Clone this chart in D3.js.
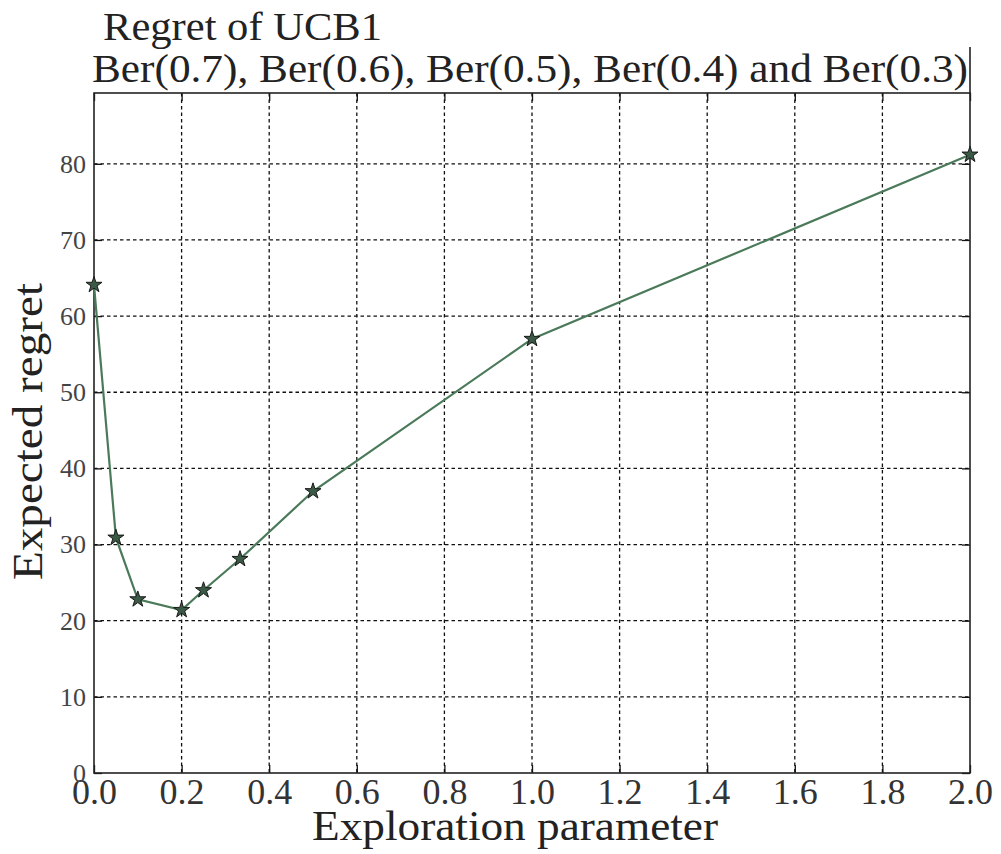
<!DOCTYPE html>
<html>
<head>
<meta charset="utf-8">
<script src="https://cdn.jsdelivr.net/npm/d3@7"></script>
<style>
  html, body { margin: 0; padding: 0; background: #fff; }
  svg { display: block; }
  text { font-family: "Liberation Serif", "DejaVu Serif", serif; fill: #222; }
</style>
</head>
<body>
<svg id="chart" width="1001" height="854"></svg>
<script>
// Exploration parameter values and the expected regret measured at each
const explorationParams = [0, 0.05, 0.1, 0.2, 0.25, 1 / 3, 0.5, 1.0, 2.0];
const expectedRegret = [64.1, 30.9, 22.8, 21.4, 24.0, 28.1, 37.0, 57.0, 81.2];

const xTicks = [0, 0.2, 0.4, 0.6, 0.8, 1.0, 1.2, 1.4, 1.6, 1.8, 2.0];
const yTicks = [0, 10, 20, 30, 40, 50, 60, 70, 80];

const titleLine1 = "Regret of UCB1";
const titleLine2 = "Ber(0.7), Ber(0.6), Ber(0.5), Ber(0.4) and Ber(0.3)";
const xLabel = "Exploration parameter";
const yLabel = "Expected regret";

const serif = "'Liberation Serif', 'DejaVu Serif', serif";
const svg = d3.select("#chart");
const plot = { left: 94, right: 970, top: 93, bottom: 773 };

const x = d3.scaleLinear().domain([0, 2]).range([plot.left, plot.right]);
const y = d3.scaleLinear().domain([0, 89.3]).range([plot.bottom, plot.top]);

// Dotted grid
const grid = svg.append("g").attr("stroke", "#111").attr("stroke-width", 1.3)
  .attr("stroke-dasharray", "3.5,3");
grid.selectAll("line.gx").data(xTicks.slice(1, -1)).join("line")
  .attr("class", "gx")
  .attr("x1", d => x(d)).attr("x2", d => x(d))
  .attr("y1", plot.top).attr("y2", plot.bottom);
grid.selectAll("line.gy").data(yTicks.slice(1)).join("line")
  .attr("class", "gy")
  .attr("x1", plot.left).attr("x2", plot.right)
  .attr("y1", d => y(d)).attr("y2", d => y(d));

// Axes with inward ticks
const xAxis = svg.append("g").attr("transform", `translate(0,${plot.bottom})`)
  .call(d3.axisBottom(x).tickValues(xTicks).tickFormat(d3.format(".1f"))
    .tickSizeInner(-8).tickSizeOuter(0).tickPadding(5));
xAxis.select(".domain").remove();
xAxis.selectAll("text").style("font-size", "36px").style("fill", "#333")
  .style("font-family", serif);

const xAxisTop = svg.append("g").attr("transform", `translate(0,${plot.top})`)
  .call(d3.axisTop(x).tickValues(xTicks).tickFormat("").tickSizeInner(-8).tickSizeOuter(0));
xAxisTop.select(".domain").remove();

const yAxis = svg.append("g").attr("transform", `translate(${plot.left},0)`)
  .call(d3.axisLeft(y).tickValues(yTicks).tickFormat(d3.format("d"))
    .tickSizeInner(-8).tickSizeOuter(0).tickPadding(8));
yAxis.select(".domain").remove();
yAxis.selectAll("text").style("font-size", "26px").style("fill", "#444")
  .style("font-family", serif);

const yAxisRight = svg.append("g").attr("transform", `translate(${plot.right},0)`)
  .call(d3.axisRight(y).tickValues(yTicks).tickFormat("").tickSizeInner(-8).tickSizeOuter(0));
yAxisRight.select(".domain").remove();

svg.selectAll(".tick line").attr("stroke", "#111").attr("stroke-width", 1.3);

// Plot frame
svg.append("rect")
  .attr("x", plot.left).attr("y", plot.top)
  .attr("width", plot.right - plot.left).attr("height", plot.bottom - plot.top)
  .attr("fill", "none").attr("stroke", "#222").attr("stroke-width", 1.6);
svg.append("line")
  .attr("x1", plot.right).attr("x2", plot.right)
  .attr("y1", 47).attr("y2", plot.top)
  .attr("stroke", "#222").attr("stroke-width", 1.6);

// Regret curve
const points = explorationParams.map((p, i) => [p, expectedRegret[i]]);
svg.append("path")
  .datum(points)
  .attr("fill", "none").attr("stroke", "#4b7a5a").attr("stroke-width", 2.2)
  .attr("d", d3.line().x(d => x(d[0])).y(d => y(d[1])));

svg.append("g").selectAll("path").data(points).join("path")
  .attr("transform", d => `translate(${x(d[0])},${y(d[1])})`)
  .attr("d", d3.symbol().type(d3.symbolStar).size(80))
  .attr("fill", "#3a5a45").attr("stroke", "#1a1a1a").attr("stroke-width", 1);

// Titles and axis labels
svg.append("text").attr("x", 103).attr("y", 40)
  .style("font-size", "41px").attr("fill", "#222")
  .attr("textLength", 279).attr("lengthAdjust", "spacingAndGlyphs").text(titleLine1);
svg.append("text").attr("x", 92).attr("y", 82)
  .style("font-size", "39px").attr("fill", "#222")
  .attr("textLength", 876).attr("lengthAdjust", "spacingAndGlyphs").text(titleLine2);

svg.append("text").attr("x", 312).attr("y", 840)
  .style("font-size", "42px").attr("fill", "#222")
  .attr("textLength", 406).attr("lengthAdjust", "spacingAndGlyphs")
  .text(xLabel);
svg.append("text")
  .attr("transform", `translate(42,580) rotate(-90)`)
  .style("font-size", "43px").attr("fill", "#222")
  .attr("textLength", 297).attr("lengthAdjust", "spacingAndGlyphs")
  .text(yLabel);
</script>
</body>
</html>
